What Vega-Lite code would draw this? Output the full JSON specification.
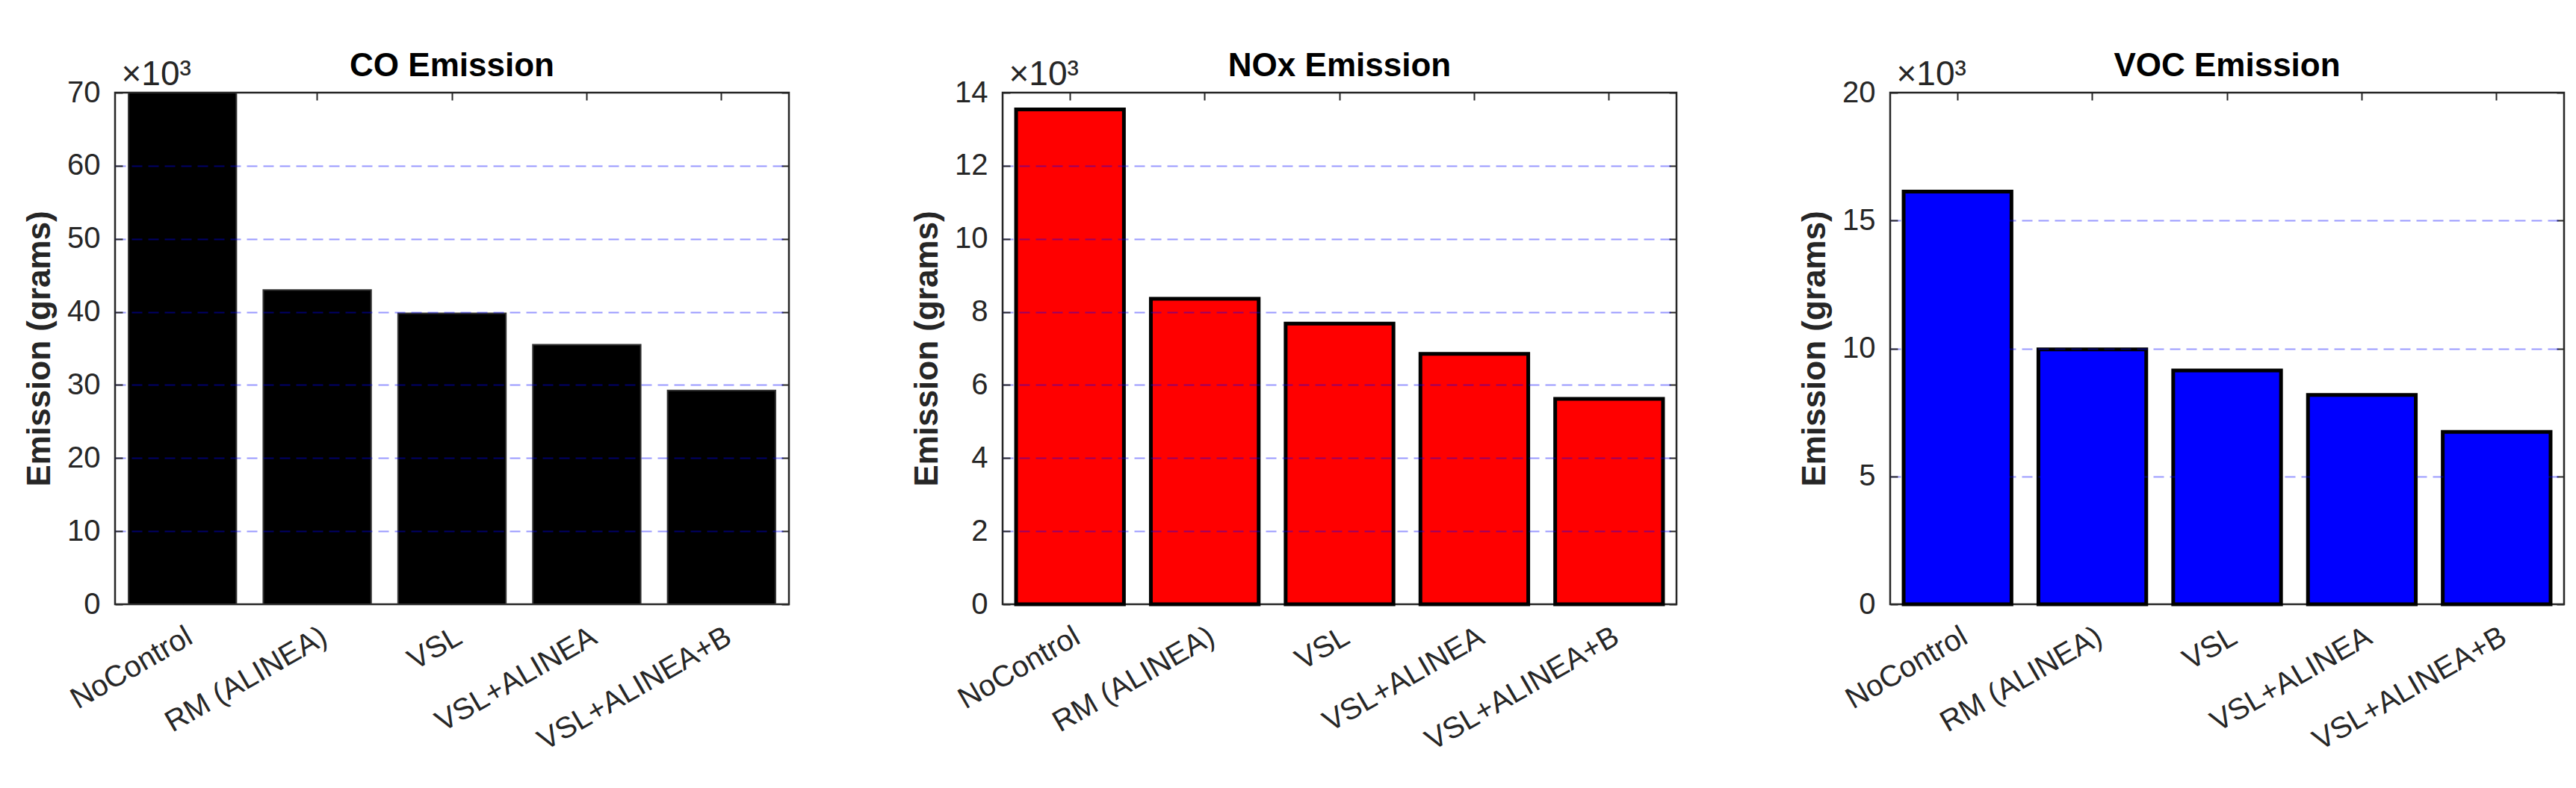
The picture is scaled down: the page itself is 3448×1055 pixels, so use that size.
{
  "$schema": "https://vega.github.io/schema/vega-lite/v6.json",
  "background": "white",
  "padding": {"left": 30, "top": 65, "right": 10, "bottom": 5},
  "spacing": 159,
  "datasets": {
    "co": [
      {"scenario": "NoControl", "emission": 70000},
      {"scenario": "RM (ALINEA)", "emission": 43000},
      {"scenario": "VSL", "emission": 39800},
      {"scenario": "VSL+ALINEA", "emission": 35500},
      {"scenario": "VSL+ALINEA+B", "emission": 29250}
    ],
    "nox": [
      {"scenario": "NoControl", "emission": 13540},
      {"scenario": "RM (ALINEA)", "emission": 8360},
      {"scenario": "VSL", "emission": 7680},
      {"scenario": "VSL+ALINEA", "emission": 6850},
      {"scenario": "VSL+ALINEA+B", "emission": 5620}
    ],
    "voc": [
      {"scenario": "NoControl", "emission": 16130},
      {"scenario": "RM (ALINEA)", "emission": 9960},
      {"scenario": "VSL", "emission": 9140},
      {"scenario": "VSL+ALINEA", "emission": 8180},
      {"scenario": "VSL+ALINEA+B", "emission": 6740}
    ]
  },
  "hconcat": [
    {
      "width": 902, "height": 685,
      "data": {"name": "co"},
      "title": {"text": "CO Emission", "offset": -35},
      "layer": [
        {
          "mark": {"type": "bar", "fill": "#000000", "stroke": "#333333", "strokeWidth": 2, "clip": true},
          "encoding": {
            "x": {"field": "scenario", "type": "nominal", "sort": null, "scale": {"paddingInner": 0.2, "paddingOuter": 0.1},
                  "axis": {"orient": "bottom", "title": null, "labelAngle": -30, "labelAlign": "right", "labelBaseline": "middle", "tickSize": -10, "labelPadding": 50, "labelOffset": 10, "labelLimit": 0, "domain": false}},
            "y": {"field": "emission", "type": "quantitative", "scale": {"domain": [0, 70000], "nice": false},
                  "axis": {"orient": "left", "title": "Emission (grams)", "values": [0, 10000, 20000, 30000, 40000, 50000, 60000, 70000], "labelExpr": "datum.value/1000", "grid": true, "zindex": 1, "tickSize": -10, "labelPadding": 30, "domain": false,
                           "gridOpacity": {"condition": {"test": "datum.value === 0 || datum.value === 70000", "value": 0}, "value": 0.4}}}
          }
        },
        {
          "mark": {"type": "bar", "opacity": 0},
          "encoding": {
            "x": {"field": "scenario", "type": "nominal", "sort": null,
                  "axis": {"orient": "top", "title": "×10³", "labels": false, "tickSize": -10, "domain": false, "titleAnchor": "start", "titleAlign": "left", "titleFontWeight": "normal", "titleFontSize": 46, "titlePadding": 10, "titleBaseline": "alphabetic", "titleX": 8}},
            "y": {"field": "emission", "type": "quantitative",
                  "axis": {"orient": "right", "title": null, "labels": false, "grid": false, "tickSize": -10, "domain": false, "values": [0, 10000, 20000, 30000, 40000, 50000, 60000, 70000]}}
          }
        }
      ],
      "resolve": {"axis": {"x": "independent", "y": "independent"}}
    },
    {
      "width": 902, "height": 685,
      "data": {"name": "nox"},
      "title": {"text": "NOx Emission", "offset": -35},
      "layer": [
        {
          "mark": {"type": "bar", "fill": "#ff0000", "stroke": "#000000", "strokeWidth": 5},
          "encoding": {
            "x": {"field": "scenario", "type": "nominal", "sort": null, "scale": {"paddingInner": 0.2, "paddingOuter": 0.1},
                  "axis": {"orient": "bottom", "title": null, "labelAngle": -30, "labelAlign": "right", "labelBaseline": "middle", "tickSize": -10, "labelPadding": 50, "labelOffset": 10, "labelLimit": 0, "domain": false}},
            "y": {"field": "emission", "type": "quantitative", "scale": {"domain": [0, 14000], "nice": false},
                  "axis": {"orient": "left", "title": "Emission (grams)", "values": [0, 2000, 4000, 6000, 8000, 10000, 12000, 14000], "labelExpr": "datum.value/1000", "grid": true, "zindex": 1, "tickSize": -10, "labelPadding": 30, "domain": false,
                           "gridOpacity": {"condition": {"test": "datum.value === 0 || datum.value === 14000", "value": 0}, "value": 0.4}}}
          }
        },
        {
          "mark": {"type": "bar", "opacity": 0},
          "encoding": {
            "x": {"field": "scenario", "type": "nominal", "sort": null,
                  "axis": {"orient": "top", "title": "×10³", "labels": false, "tickSize": -10, "domain": false, "titleAnchor": "start", "titleAlign": "left", "titleFontWeight": "normal", "titleFontSize": 46, "titlePadding": 10, "titleBaseline": "alphabetic", "titleX": 8}},
            "y": {"field": "emission", "type": "quantitative",
                  "axis": {"orient": "right", "title": null, "labels": false, "grid": false, "tickSize": -10, "domain": false, "values": [0, 2000, 4000, 6000, 8000, 10000, 12000, 14000]}}
          }
        }
      ],
      "resolve": {"axis": {"x": "independent", "y": "independent"}}
    },
    {
      "width": 902, "height": 685,
      "data": {"name": "voc"},
      "title": {"text": "VOC Emission", "offset": -35},
      "layer": [
        {
          "mark": {"type": "bar", "fill": "#0000ff", "stroke": "#000000", "strokeWidth": 5},
          "encoding": {
            "x": {"field": "scenario", "type": "nominal", "sort": null, "scale": {"paddingInner": 0.2, "paddingOuter": 0.1},
                  "axis": {"orient": "bottom", "title": null, "labelAngle": -30, "labelAlign": "right", "labelBaseline": "middle", "tickSize": -10, "labelPadding": 50, "labelOffset": 10, "labelLimit": 0, "domain": false}},
            "y": {"field": "emission", "type": "quantitative", "scale": {"domain": [0, 20000], "nice": false},
                  "axis": {"orient": "left", "title": "Emission (grams)", "values": [0, 5000, 10000, 15000, 20000], "labelExpr": "datum.value/1000", "grid": true, "zindex": 1, "tickSize": -10, "labelPadding": 30, "domain": false,
                           "gridOpacity": {"condition": {"test": "datum.value === 0 || datum.value === 20000", "value": 0}, "value": 0.4}}}
          }
        },
        {
          "mark": {"type": "bar", "opacity": 0},
          "encoding": {
            "x": {"field": "scenario", "type": "nominal", "sort": null,
                  "axis": {"orient": "top", "title": "×10³", "labels": false, "tickSize": -10, "domain": false, "titleAnchor": "start", "titleAlign": "left", "titleFontWeight": "normal", "titleFontSize": 46, "titlePadding": 10, "titleBaseline": "alphabetic", "titleX": 8}},
            "y": {"field": "emission", "type": "quantitative",
                  "axis": {"orient": "right", "title": null, "labels": false, "grid": false, "tickSize": -10, "domain": false, "values": [0, 5000, 10000, 15000, 20000]}}
          }
        }
      ],
      "resolve": {"axis": {"x": "independent", "y": "independent"}}
    }
  ],
  "config": {
    "font": "Liberation Sans",
    "view": {"stroke": "#262626", "strokeWidth": 2.5},
    "axis": {
      "labelFont": "Liberation Sans", "labelFontSize": 40, "labelColor": "#262626",
      "titleFont": "Liberation Sans", "titleFontSize": 44, "titleFontWeight": "bold", "titleColor": "#262626",
      "tickColor": "#262626", "tickWidth": 2,
      "gridColor": "#0000ff", "gridDash": [14, 8], "gridWidth": 2
    },
    "axisY": {"titlePadding": 14},
    "title": {"font": "Liberation Sans", "fontSize": 44, "fontWeight": "bold", "color": "#000000", "anchor": "middle", "frame": "group"}
  }
}
